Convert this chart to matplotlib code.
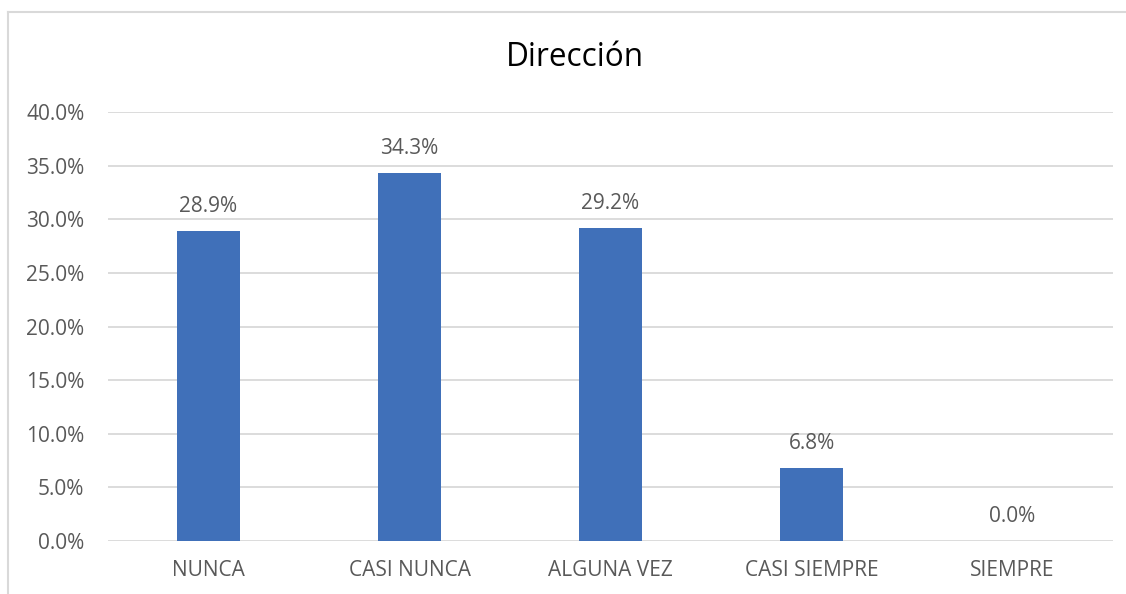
import matplotlib.pyplot as plt
from matplotlib.lines import Line2D

categorias = ["NUNCA", "CASI NUNCA", "ALGUNA VEZ", "CASI SIEMPRE", "SIEMPRE"]
porcentajes = [28.9, 34.3, 29.2, 6.8, 0.0]
ticks_y = [0, 5, 10, 15, 20, 25, 30, 35, 40]

plt.rcParams["font.family"] = ["Open Sans", "DejaVu Sans"]
gris = "#595959"

fig = plt.figure(figsize=(11.26, 5.94), dpi=100)
ax = fig.add_axes([0.0959, 0.0892, 0.8926, 0.7222])

x = range(len(categorias))
ax.bar(x, porcentajes, width=0.31, color="#4070B9", zorder=3)

for i, v in zip(x, porcentajes):
    ax.annotate(f"{v:.1f}%", (i, v), xytext=(0, 10), textcoords="offset points",
                ha="center", va="bottom", fontsize=15, color=gris)

ax.set_xlim(-0.5, len(categorias) - 0.5)
ax.set_ylim(0, 40)
ax.set_yticks(ticks_y)
ax.set_yticklabels([f"{t:.1f}%" for t in ticks_y])
ax.set_xticks(list(x))
ax.set_xticklabels(categorias)
ax.tick_params(axis="y", length=0, pad=17, labelsize=15, labelcolor=gris)
ax.tick_params(axis="x", length=0, pad=14, labelsize=15, labelcolor=gris)
ax.grid(axis="y", color="#D9D9D9", linewidth=1.3, zorder=0)
for s in ax.spines.values():
    s.set_visible(False)

fig.text(0.511, 0.904, "Dirección", ha="center", va="center", fontsize=22.7, color="#000000")

# marco del gráfico
fig.add_artist(Line2D([0.0075, 0.0075], [0, 0.98], color="#D9D9D9", lw=1.5))
fig.add_artist(Line2D([0.0075, 1.0], [0.98, 0.98], color="#D9D9D9", lw=1.5))

plt.savefig("out.png", dpi=100)
plt.close()
